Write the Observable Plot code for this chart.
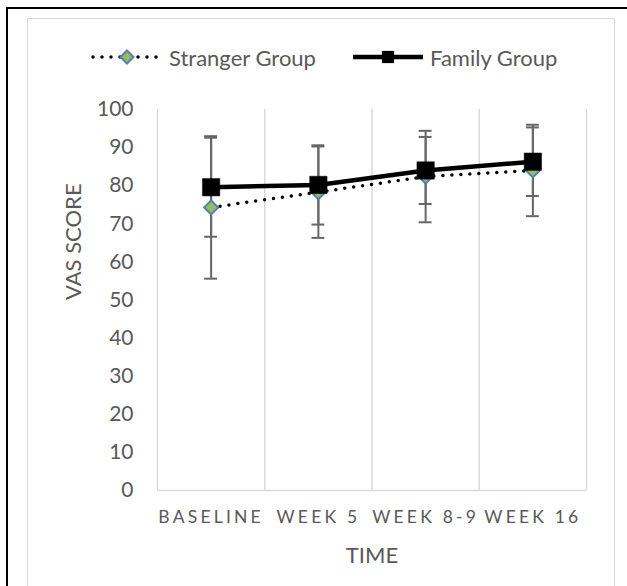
<!DOCTYPE html>
<html>
<head>
<meta charset="utf-8">
<script src="https://cdn.jsdelivr.net/npm/d3@7"></script>
<script src="https://cdn.jsdelivr.net/npm/@observablehq/plot@0.6"></script>
<style>
  html, body { margin: 0; padding: 0; background: #fff; overflow: hidden; }
  #wrap { position: relative; width: 627px; height: 586px; overflow: hidden; font-family: Lato, "Open Sans", sans-serif; color: #595959; }
  #outer { position: absolute; left: 6px; top: 7px; right: -20px; bottom: -20px; border: 2px solid #000; }
  #inner { position: absolute; left: 27px; top: 18px; width: 588px; height: 580px; border: 1px solid #d9d9d9; box-sizing: border-box; }
  #legend { position: absolute; left: 0; top: 0; width: 627px; height: 80px; }
  .item { position: absolute; top: 42px; height: 30px; display: flex; align-items: center; font-size: 22px; white-space: nowrap; }
  .item svg { display: block; margin-right: 5px; }
  #chart { position: absolute; left: 0; top: 80px; }
  #chart svg { background: transparent !important; overflow: visible; }
  #chart [aria-label="x-axis tick label"] text { letter-spacing: 3.2px; }
</style>
</head>
<body>
<div id="wrap">
  <div id="outer"></div>
  <div id="inner"></div>
  <div id="legend"></div>
  <div id="chart"></div>
</div>
<script>
const categories = ["BASELINE", "WEEK 5", "WEEK 8-9", "WEEK 16"];
const strangerMean = [74.3, 78.3, 82.4, 84.0];
const strangerErr = [18.7, 12.0, 12.0, 12.0];
const familyMean = [79.6, 80.2, 84.0, 86.3];
const familyErr = [13.0, 10.4, 8.8, 9.0];
const yTicks = [0, 10, 20, 30, 40, 50, 60, 70, 80, 90, 100];
const seriesNames = ["Stranger Group", "Family Group"];
const yTitle = "VAS SCORE";
const xTitle = "TIME";

const stranger = categories.map((c, i) => ({pos: i + 0.5, cat: c, v: strangerMean[i], lo: strangerMean[i] - strangerErr[i], hi: strangerMean[i] + strangerErr[i]}));
const family = categories.map((c, i) => ({pos: i + 0.5, cat: c, v: familyMean[i], lo: familyMean[i] - familyErr[i], hi: familyMean[i] + familyErr[i]}));
const boundaries = d3.range(categories.length + 1);
const cap = 0.06;
const errColor = "#666666";
const gridColor = "#d9d9d9";

function errorMarks(data) {
  return [
    Plot.ruleX(data, {x: "pos", y1: "lo", y2: "hi", stroke: errColor, strokeWidth: 2}),
    Plot.ruleY(data, {y: "lo", x1: d => d.pos - cap, x2: d => d.pos + cap, stroke: errColor, strokeWidth: 2}),
    Plot.ruleY(data, {y: "hi", x1: d => d.pos - cap, x2: d => d.pos + cap, stroke: errColor, strokeWidth: 2})
  ];
}

const chart = Plot.plot({
  width: 627,
  height: 506,
  marginLeft: 157,
  marginRight: 41,
  marginTop: 29,
  marginBottom: 96,
  style: {fontFamily: "Lato, 'Open Sans', sans-serif", color: "#595959", background: "transparent"},
  x: {domain: [0, categories.length]},
  y: {domain: [0, 100]},
  marks: [
    Plot.ruleX(boundaries, {x: d => d, y1: 0, y2: 100, stroke: gridColor, strokeWidth: 1.5}),
    Plot.ruleY([0], {stroke: gridColor, strokeWidth: 1.5}),
    Plot.axisY({ticks: yTicks, tickSize: 0, tickPadding: 24, fontSize: 21, fill: "#595959", label: null}),
    Plot.axisX({ticks: stranger.map(d => d.pos), tickSize: 0, tickPadding: 20, fontSize: 17.5, fill: "#595959", label: null,
      tickFormat: p => categories[Math.floor(p)]}),
    Plot.text([yTitle], {frameAnchor: "left", dx: -84, rotate: -90, fontSize: 22, fill: "#595959"}),
    Plot.text([xTitle], {frameAnchor: "bottom", dy: 72, fontSize: 22, fill: "#595959"}),
    ...errorMarks(stranger),
    ...errorMarks(family),
    Plot.line(stranger, {x: "pos", y: "v", stroke: "#000", strokeWidth: 3.5, strokeDasharray: "0 9", strokeLinecap: "round"}),
    Plot.dot(stranger, {x: "pos", y: "v", symbol: "diamond2", r: 6.3, fill: "#9bbb59", stroke: "#4f81bd", strokeWidth: 2}),
    Plot.line(family, {x: "pos", y: "v", stroke: "#000", strokeWidth: 4.5}),
    Plot.dot(family, {x: "pos", y: "v", symbol: "square", r: 9.8, fill: "#000", stroke: "#000", strokeWidth: 0.5})
  ]
});
document.getElementById("chart").appendChild(chart);

// Legend
const legend = d3.select("#legend");
const items = [
  {name: seriesNames[0], left: 90, kind: "stranger"},
  {name: seriesNames[1], left: 351, kind: "family"}
];
items.forEach(it => {
  const div = legend.append("div").attr("class", "item").style("left", it.left + "px");
  const s = div.append("svg").attr("width", 74).attr("height", 30);
  if (it.kind === "stranger") {
    s.append("line").attr("x1", 3).attr("x2", 71).attr("y1", 15).attr("y2", 15)
      .attr("stroke", "#000").attr("stroke-width", 3.5).attr("stroke-dasharray", "0 9").attr("stroke-linecap", "round");
    s.append("path").attr("d", d3.symbol(d3.symbolDiamond2, 110)()).attr("transform", "translate(37,15)")
      .attr("fill", "#9bbb59").attr("stroke", "#4f81bd").attr("stroke-width", 2);
  } else {
    s.append("line").attr("x1", 2).attr("x2", 72).attr("y1", 15).attr("y2", 15)
      .attr("stroke", "#000").attr("stroke-width", 4.5);
    s.append("path").attr("d", d3.symbol(d3.symbolSquare, 150)()).attr("transform", "translate(37,15)")
      .attr("fill", "#000");
  }
  div.append("span").text(it.name);
});
</script>
</body>
</html>
